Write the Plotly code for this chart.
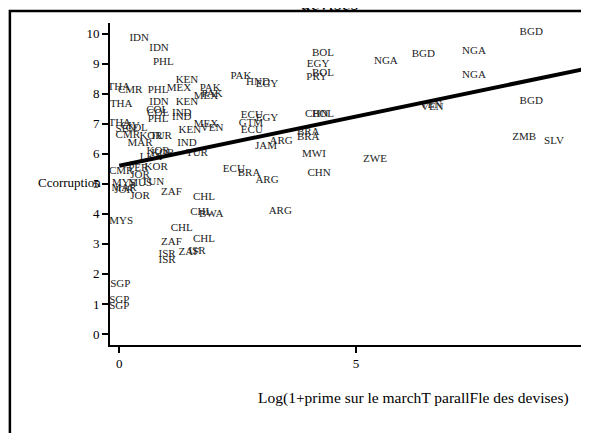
import plotly.graph_objects as go

# Codes pays et coordonnées (prime log, indice de corruption)
pays = [
    "IDN", "IDN", "PHL", "KEN", "PAK", "HND", "EGY", "THA", "CMR", "PHL",
    "MEX", "PAK", "MEX", "PAK", "THA", "IDN", "KEN", "COL", "COL", "IND",
    "IND", "PHL", "THA", "CIV", "MEX", "VEN", "KEN", "SEN", "COL", "CMR",
    "KOR", "TUR", "MAR", "IND", "KOR", "KOR", "LKA", "TUR", "CMR", "PER",
    "KOR", "JOR", "MYS", "MUS", "TUN", "MAR", "JOR", "JOR", "ZAF", "CHL",
    "MYS", "CHL", "BWA", "ARG", "CHL", "ZAF", "CHL", "ZAF", "ISR", "ISR",
    "ISR", "SGP", "SGP", "SGP", "ECU", "BRA", "ARG", "ECU", "EGY", "GTM",
    "ECU", "ARG", "JAM", "BGD", "BOL", "EGY", "BOL", "PRY", "NGA", "BGD",
    "NGA", "NGA", "BGD", "CHN", "BOL", "VEN", "VEN", "BRA", "BRA", "ZMB",
    "SLV", "MWI", "ZWE", "CHN",
]
prime = [
    0.42, 0.84, 0.93, 1.43, 2.57, 2.93, 3.12, -0.01, 0.23, 0.82,
    1.26, 1.92, 1.83, 1.96, 0.04, 0.84, 1.43, 0.80, 0.82, 1.32,
    1.32, 0.82, 0.01, 0.23, 1.83, 1.96, 1.49, 0.14, 0.37, 0.18,
    0.67, 0.88, 0.44, 1.43, 0.82, 0.92, 0.67, 1.64, 0.04, 0.40,
    0.78, 0.44, 0.10, 0.44, 0.71, 0.10, 0.10, 0.44, 1.10, 1.79,
    0.04, 1.73, 1.94, 3.40, 1.32, 1.10, 1.79, 1.47, 1.64, 1.01,
    1.01, 0.02, 0.00, 0.00, 2.42, 2.74, 3.12, 2.80, 3.12, 2.78,
    2.80, 3.42, 3.10, 8.70, 4.30, 4.20, 4.30, 4.17, 5.63, 6.42,
    7.49, 7.49, 8.70, 4.17, 4.30, 6.61, 6.58, 3.99, 3.99, 8.55,
    9.18, 4.11, 5.40, 4.22,
]
corruption = [
    9.85, 9.52, 9.05, 8.45, 8.59, 8.39, 8.32, 8.22, 8.12, 8.12,
    8.19, 8.19, 7.92, 7.99, 7.65, 7.72, 7.72, 7.45, 7.35, 7.35,
    7.22, 7.15, 7.02, 6.92, 6.99, 6.86, 6.79, 6.82, 6.86, 6.62,
    6.59, 6.59, 6.36, 6.36, 6.09, 6.02, 5.89, 6.02, 5.42, 5.52,
    5.56, 5.29, 5.02, 5.02, 5.06, 4.86, 4.79, 4.59, 4.73, 4.56,
    3.76, 4.06, 3.99, 4.09, 3.53, 3.06, 3.16, 2.73, 2.76, 2.66,
    2.46, 1.66, 1.13, 0.93, 5.49, 5.36, 5.12, 7.29, 7.19, 7.02,
    6.79, 6.42, 6.26, 10.05, 9.35, 8.98, 8.69, 8.56, 9.08, 9.32,
    9.42, 8.62, 7.75, 7.32, 7.32, 7.55, 7.62, 6.72, 6.56, 6.56,
    6.42, 5.99, 5.82, 5.36,
]

# Droite de régression (valeurs ajustées)
fit_x = [0, 9.92]
fit_y = [5.60, 8.85]

x_ticks = [0, 5]
y_ticks = [0, 1, 2, 3, 4, 5, 6, 7, 8, 9, 10]

serif = "Liberation Serif"

fig = go.Figure()

fig.add_trace(
    go.Scatter(
        x=prime,
        y=corruption,
        mode="text",
        text=pays,
        textposition="middle center",
        textfont=dict(family=serif, size=11, color="#222"),
        showlegend=False,
    )
)

fig.add_trace(
    go.Scatter(
        x=fit_x,
        y=fit_y,
        mode="lines",
        line=dict(color="black", width=4),
        showlegend=False,
    )
)

# la page ajoute 8 px de marge au corps : on compense dans les marges
fig.update_layout(
    width=581,
    height=425,
    margin=dict(l=102, r=0, t=15, b=88),
    paper_bgcolor="white",
    plot_bgcolor="white",
    font=dict(family=serif, color="black"),
    xaxis=dict(
        range=[-0.196, 9.92],
        tickvals=x_ticks,
        showgrid=False,
        zeroline=False,
        showline=True,
        linecolor="black",
        linewidth=1.5,
        ticks="outside",
        ticklen=6,
        tickwidth=2,
        tickcolor="black",
        tickfont=dict(family=serif, size=13),
    ),
    yaxis=dict(
        range=[-0.366, 10.35],
        tickvals=y_ticks,
        showgrid=False,
        zeroline=False,
        showline=True,
        linecolor="black",
        linewidth=2,
        ticks="outside",
        ticklen=6,
        tickwidth=2,
        tickcolor="black",
        tickfont=dict(family=serif, size=13),
    ),
)

# cadre extérieur du graphique (côtés gauche et haut seulement visibles)
fig.add_shape(
    type="path",
    xref="paper",
    yref="paper",
    path="M -0.209,-0.45 L -0.209,1.037 L 1.2,1.037",
    line=dict(color="black", width=2.5),
)

# fin du titre (coupé en haut)
fig.add_annotation(
    text="<i>devises</i>",
    xref="paper",
    yref="paper",
    x=0.459,
    y=1.0,
    yshift=7,
    yanchor="bottom",
    showarrow=False,
    font=dict(family=serif, size=20),
)

fig.add_annotation(
    text="Ccorruption",
    xref="paper",
    yref="paper",
    x=-0.0146,
    y=0.506,
    xanchor="right",
    yanchor="middle",
    showarrow=False,
    font=dict(family=serif, size=13),
)

fig.add_annotation(
    text="Log(1+prime sur le marchT parallFle des devises)",
    xref="paper",
    yref="paper",
    x=0.633,
    y=-0.165,
    xanchor="center",
    yanchor="middle",
    showarrow=False,
    font=dict(family=serif, size=15.5),
)

fig.write_html("out.html")
